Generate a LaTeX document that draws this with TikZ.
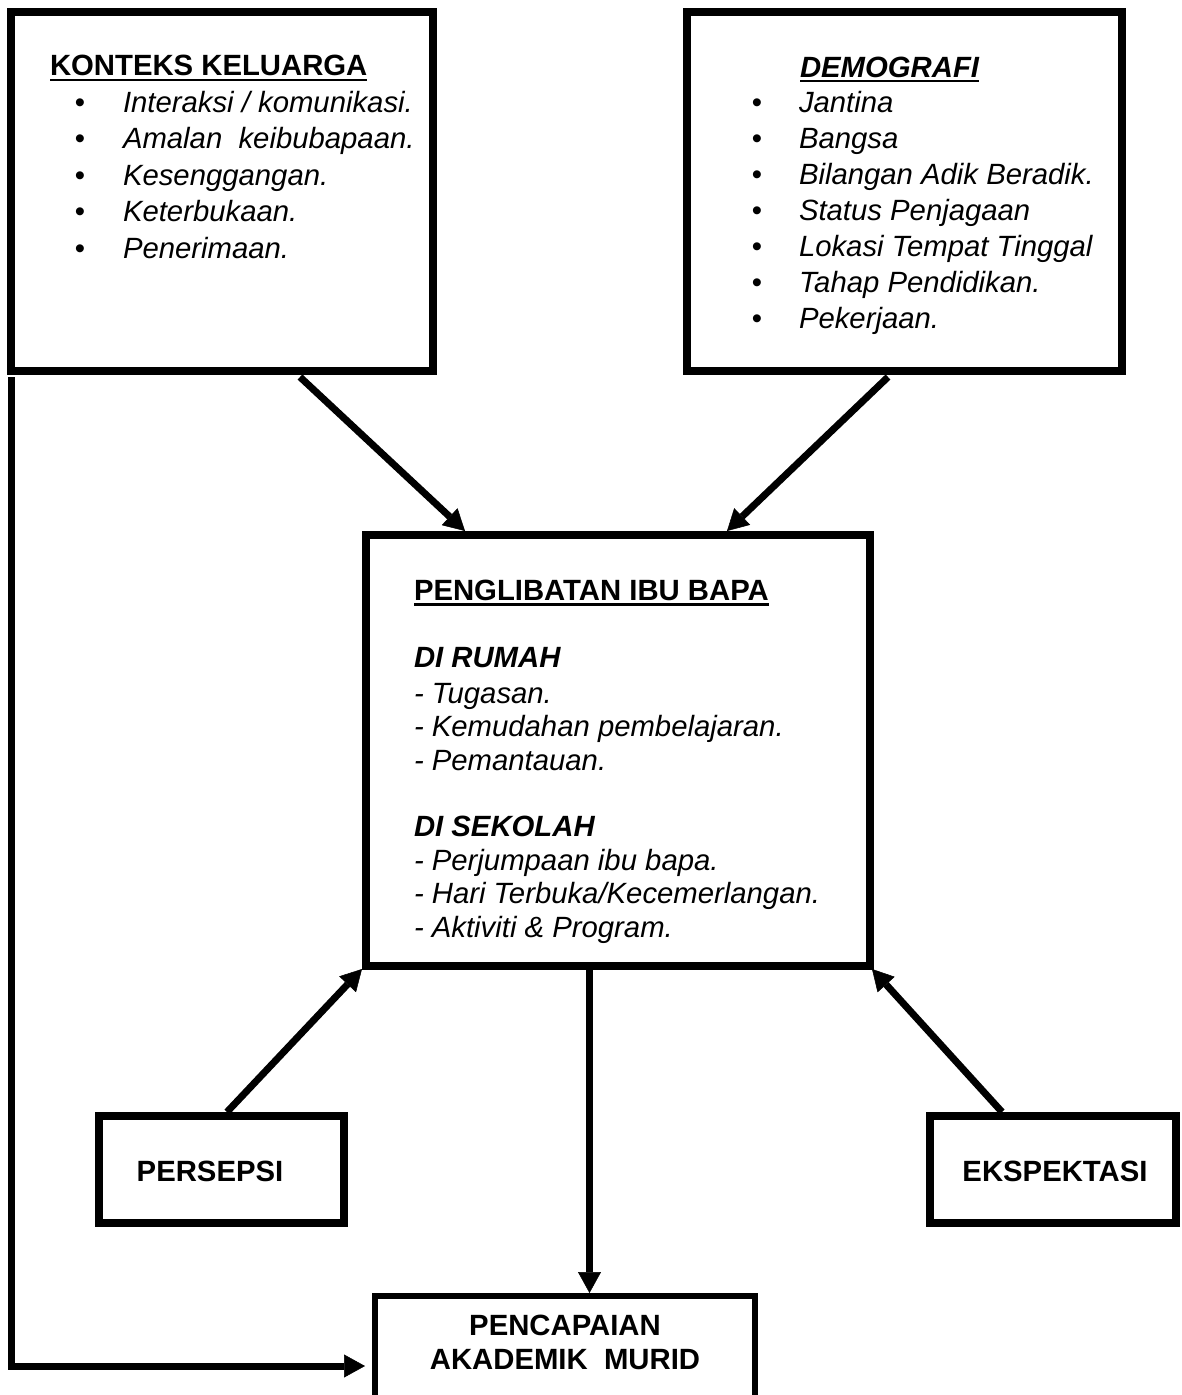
\documentclass[tikz,border=0pt]{standalone}
\usepackage{fontspec}
\setmainfont{Liberation Sans}
\usetikzlibrary{arrows.meta,calc}
\newcommand\dgfs{\fontsize{29.3}{35}\selectfont}
\begin{document}
\begin{tikzpicture}[x=1pt,y=-1pt,
  box/.style={draw, line width=7.5pt, rectangle, outer sep=0pt, inner sep=0pt},
  txt/.style={anchor=base west, inner sep=0pt, outer sep=0pt, font=\dgfs},
  ctxt/.style={anchor=base, inner sep=0pt, outer sep=0pt, font=\dgfs\bfseries},
  bul/.style={anchor=base, inner sep=0pt, outer sep=0pt, font=\dgfs},
  uline/.style={line width=2.6pt},
  arr/.style={line width=7pt, -{Triangle[length=21pt,width=23pt,line width=0.5pt]}}]
\useasboundingbox (0,0) rectangle (1182,1395);
\fill[white] (0,0) rectangle (1182,1395);

% boxes
\node[box, minimum width=422pt, minimum height=359pt] (kel) at (222,191.5) {};
\node[box, minimum width=435pt, minimum height=359pt] (demo) at (904.5,191.5) {};
\node[box, minimum width=504pt, minimum height=431pt] (inv) at (618,750.5) {};
\node[box, minimum width=245pt, minimum height=107pt] (per) at (221.5,1169.5) {};
\node[box, minimum width=246pt, minimum height=107pt] (eks) at (1053,1169.5) {};
\node[box, line width=6.5pt, minimum width=380pt, minimum height=109pt] (pen) at (565,1350.5) {};

% Konteks keluarga
\node[txt, font=\dgfs\bfseries] (kt) at (50,75) {KONTEKS KELUARGA};
\draw[uline] ($(kt.base west)+(0,5)$) -- ($(kt.base east)+(0,5)$);
\foreach \t [count=\i] in {Interaksi / komunikasi., Amalan\ \ keibubapaan., Kesenggangan., Keterbukaan., Penerimaan.}{
  \node[bul] (kb\i) at (80,{112+(\i-1)*36.6}) {•};
  \node[txt, font=\dgfs\itshape] (k\i) at (123,{112+(\i-1)*36.6}) {\t};
}

% Demografi
\node[txt, font=\dgfs\bfseries\itshape] (dt) at (800,77) {DEMOGRAFI};
\draw[uline] ($(dt.base west)+(0,4)$) -- ($(dt.base east)+(0,4)$);
\foreach \t [count=\i] in {Jantina, Bangsa, Bilangan Adik Beradik., Status Penjagaan, Lokasi Tempat Tinggal, Tahap Pendidikan., Pekerjaan.}{
  \node[bul] (db\i) at (757,{112+(\i-1)*36.15}) {•};
  \node[txt, font=\dgfs\itshape] (d\i) at (799,{112+(\i-1)*36.15}) {\t};
}

% Penglibatan ibu bapa
\node[txt, font=\dgfs\bfseries] (it) at (414,600) {PENGLIBATAN IBU BAPA};
\draw[uline] ($(it.base west)+(0,4.5)$) -- ($(it.base east)+(0,4.5)$);
\node[txt, font=\dgfs\bfseries\itshape] (rh) at (414,667) {DI RUMAH};
\node[txt, font=\dgfs\itshape] (r1) at (414,703) {- Tugasan.};
\node[txt, font=\dgfs\itshape] (r2) at (414,736.5) {- Kemudahan pembelajaran.};
\node[txt, font=\dgfs\itshape] (r3) at (414,770) {- Pemantauan.};
\node[txt, font=\dgfs\bfseries\itshape] (sk) at (414,836) {DI SEKOLAH};
\node[txt, font=\dgfs\itshape] (s1) at (414,870) {- Perjumpaan ibu bapa.};
\node[txt, font=\dgfs\itshape] (s2) at (414,903.5) {- Hari Terbuka/Kecemerlangan.};
\node[txt, font=\dgfs\itshape] (s3) at (414,937) {- Aktiviti \& Program.};

% bottom boxes text
\node[ctxt] (pt) at (210,1181) {PERSEPSI};
\node[ctxt] (et) at (1055,1181) {EKSPEKTASI};
\node[ctxt] (p1) at (565,1335) {PENCAPAIAN};
\node[ctxt] (p2) at (565,1369) {AKADEMIK\ \ MURID};

% connectors
\draw[arr] ($(kel.south west)+(289,6)$) -- ($(inv.north west)+(99,-4)$);
\draw[arr] ($(demo.south west)+(201,6)$) -- ($(inv.north west)+(361,-4)$);
\draw[arr] ($(per.north west)+(128,-4)$) -- ($(inv.south west)+(-4,3)$);
\draw[arr] ($(eks.north west)+(72,-4)$) -- ($(inv.south east)+(2,3)$);
\draw[arr] ($(inv.south west)+(223.5,0)$) -- ($(pen.north west)+(214.5,-3)$);
\draw[arr, line join=miter] ($(kel.south west)+(0.5,6)$) |- ($(pen.north west)+(-10,70)$);
\end{tikzpicture}
\end{document}
